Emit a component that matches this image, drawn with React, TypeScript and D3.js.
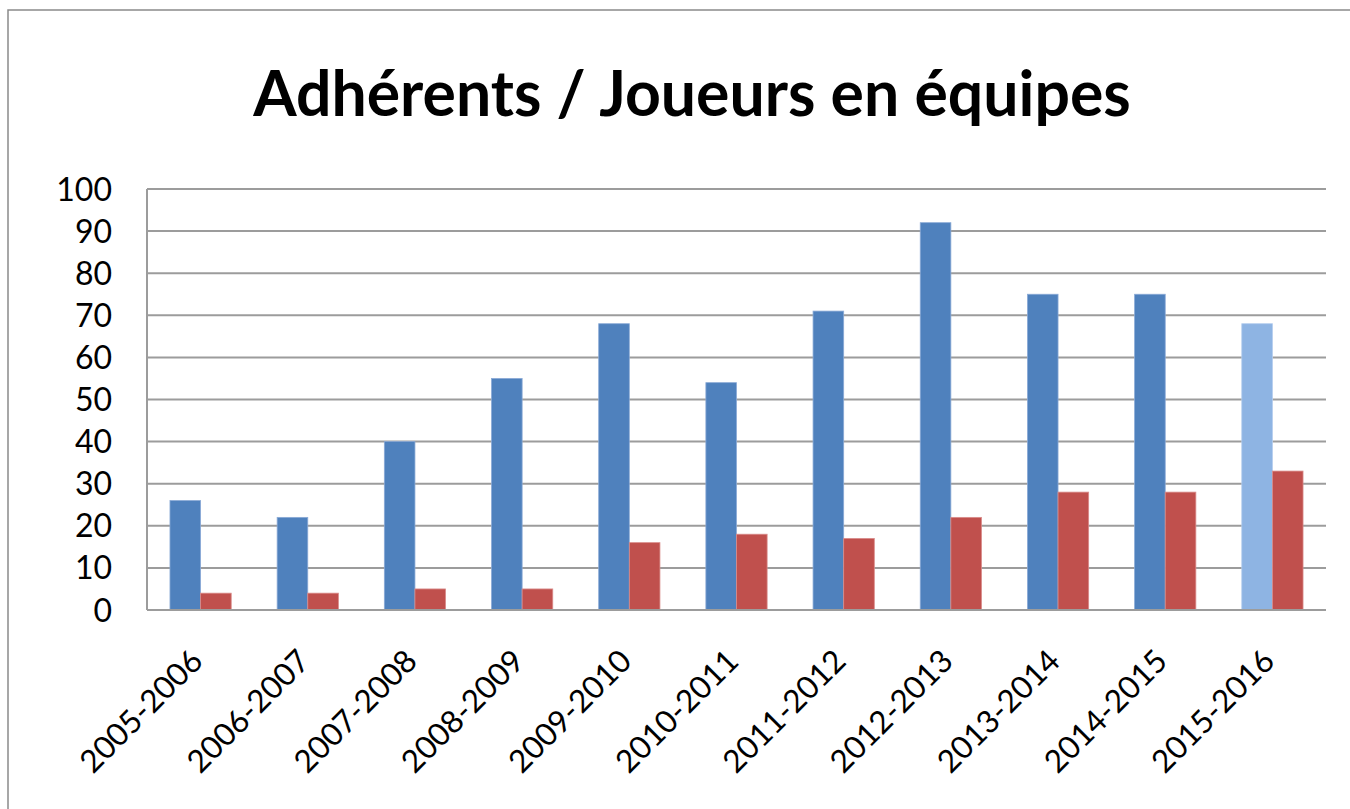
import React from "react";
import * as d3 from "d3";

const categories = [
  "2005-2006", "2006-2007", "2007-2008", "2008-2009", "2009-2010", "2010-2011",
  "2011-2012", "2012-2013", "2013-2014", "2014-2015", "2015-2016",
];
const adherents = [26, 22, 40, 55, 68, 54, 71, 92, 75, 75, 68];
const joueursEquipes = [4, 4, 5, 5, 16, 18, 17, 22, 28, 28, 33];
const yTicks = [0, 10, 20, 30, 40, 50, 60, 70, 80, 90, 100];
const seriesNames = ["Adhérents", "Joueurs en équipes"];
const highlightedCategory = "2015-2016";
const title = "Adhérents / Joueurs en équipes";

const W = 1350;
const H = 809;
const plot = { left: 147, right: 1326, top: 189, bottom: 610 };
const BLUE = "#4F81BD";
const BLUE_LIGHT = "#8EB4E3";
const RED = "#C0504D";
const FONT = "Lato, 'Open Sans', sans-serif";

export default function App() {
  const x = d3.scaleBand<string>().domain(categories).range([plot.left, plot.right]).padding(0);
  const xs = d3
    .scaleBand<string>()
    .domain(seriesNames)
    .range([0, x.bandwidth()])
    .paddingInner(0)
    .paddingOuter(0.75);
  const y = d3.scaleLinear().domain([0, 100]).range([plot.bottom, plot.top]);

  const series = [
    { name: seriesNames[0], values: adherents },
    { name: seriesNames[1], values: joueursEquipes },
  ];

  const colorFor = (si: number, cat: string) => {
    if (si === 1) return RED;
    return cat === highlightedCategory ? BLUE_LIGHT : BLUE;
  };
  const strokeFor = (si: number, cat: string) => {
    if (si === 1) return "#d98c8a";
    return cat === highlightedCategory ? "#b4cdee" : "#8aaad6";
  };

  return (
    <svg
      width={W}
      height={H}
      style={{ position: "absolute", left: 0, top: 0, background: "#fff" }}
    >
      <rect x={0} y={0} width={W} height={H} fill="#fff" />
      {/* chart frame */}
      <rect x={8} y={10} width={W + 20} height={H + 20} fill="#fff" stroke="#8a8a8a" strokeWidth={1.5} />

      {/* title */}
      <text
        x={692}
        y={116}
        textAnchor="middle"
        fontFamily={FONT}
        fontWeight={700}
        fontSize={62.5}
        fill="#000"
      >
        {title}
      </text>

      {/* gridlines */}
      {yTicks.map((t) => (
        <line
          key={"g" + t}
          x1={plot.left}
          x2={plot.right}
          y1={y(t)}
          y2={y(t)}
          stroke="#9c9c9c"
          strokeWidth={2}
        />
      ))}
      {/* y axis line */}
      <line x1={plot.left} x2={plot.left} y1={y(100)} y2={y(0)} stroke="#9c9c9c" strokeWidth={2} />

      {/* y tick labels */}
      {yTicks.map((t) => (
        <text
          key={"yl" + t}
          x={112}
          y={y(t)}
          dy="0.36em"
          textAnchor="end"
          fontFamily={FONT}
          fontSize={32}
          fill="#000"
        >
          {t}
        </text>
      ))}

      {/* bars */}
      {series.map((s, si) =>
        categories.map((c, i) => {
          const bx = (x(c) ?? 0) + (xs(s.name) ?? 0);
          const by = y(s.values[i]);
          return (
            <rect
              key={s.name + c}
              x={bx}
              y={by}
              width={xs.bandwidth()}
              height={y(0) - by}
              fill={colorFor(si, c)}
              stroke={strokeFor(si, c)}
              strokeWidth={0.8}
            />
          );
        })
      )}

      {/* x axis line */}
      <line x1={plot.left} x2={plot.right} y1={y(0)} y2={y(0)} stroke="#9c9c9c" strokeWidth={2} />

      {/* x tick labels */}
      {categories.map((c) => {
        const cx = (x(c) ?? 0) + x.bandwidth() / 2 + 4;
        const cy = 663;
        return (
          <text
            key={"xl" + c}
            transform={`translate(${cx},${cy}) rotate(-45)`}
            textAnchor="end"
            fontFamily={FONT}
            fontSize={31.5}
            fill="#000"
          >
            {c}
          </text>
        );
      })}
    </svg>
  );
}
